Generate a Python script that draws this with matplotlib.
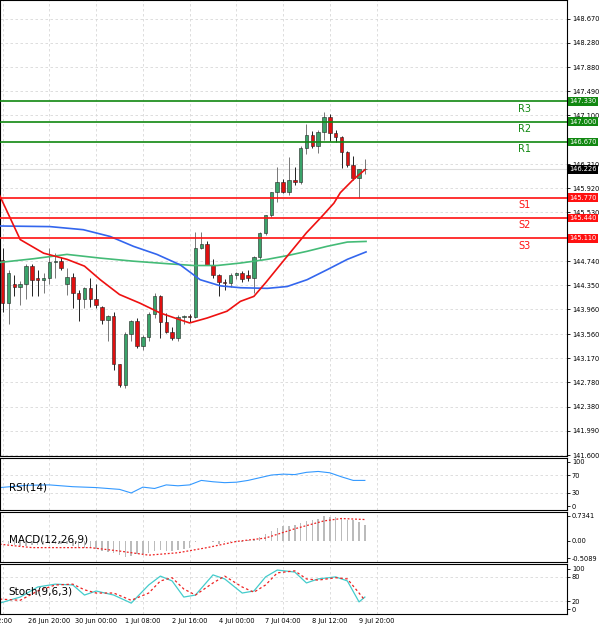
import numpy as np
import matplotlib.pyplot as plt

# OHLC per candle (4h bars)
opens = [144.76, 144.06, 144.37, 144.32, 144.37, 144.66, 144.46, 144.44, 144.47, 144.72,
         144.75, 144.37, 144.49, 144.22, 144.12, 144.31, 144.13, 143.99, 143.79, 143.86,
         143.07, 142.74, 143.56, 143.77, 143.36, 143.52, 143.89, 144.17, 143.76, 143.60,
         143.50, 143.84, 143.85, 143.84, 144.96, 145.02, 144.68, 144.51, 144.40, 144.38,
         144.52, 144.55, 144.52, 144.47, 144.81, 145.19, 145.48, 145.86, 146.03, 145.86,
         146.06, 146.02, 146.57, 146.79, 146.60, 146.84, 147.08, 146.82, 146.75, 146.51,
         146.29, 146.09, 146.23]
highs = [144.95, 144.60, 144.52, 144.42, 144.70, 144.70, 144.60, 144.55, 144.96, 144.87,
         144.80, 144.63, 144.55, 144.27, 144.32, 144.47, 144.37, 144.02, 143.87, 143.92,
         143.07, 143.60, 143.79, 143.82, 143.55, 143.92, 144.22, 144.20, 143.90, 143.68,
         143.87, 143.87, 143.89, 145.21, 145.22, 145.06, 144.78, 144.53, 144.45, 144.55,
         144.57, 144.58, 144.60, 144.82, 145.22, 145.49, 145.86, 146.27, 146.07, 146.42,
         146.27, 146.60, 146.96, 146.85, 146.87, 147.16, 147.13, 146.87, 146.77, 146.52,
         146.44, 146.23, 146.40]
lows = [143.92, 143.73, 144.17, 144.03, 144.12, 144.17, 144.17, 144.22, 144.37, 144.47,
        144.60, 144.20, 143.98, 143.77, 143.98, 144.00, 143.98, 143.73, 143.44, 142.97,
        142.70, 142.68, 143.44, 143.33, 143.30, 143.44, 143.82, 143.49, 143.57, 143.46,
        143.44, 143.73, 143.76, 143.82, 144.93, 144.68, 144.47, 144.17, 144.27, 144.32,
        144.45, 144.40, 144.42, 144.22, 144.76, 145.16, 145.46, 145.70, 145.84, 145.82,
        145.97, 145.99, 146.48, 146.57, 146.49, 146.70, 146.68, 146.67, 146.25, 146.27,
        146.06, 145.77, 146.16]
closes = [144.06, 144.55, 144.32, 144.37, 144.66, 144.44, 144.44, 144.47, 144.72, 144.75,
          144.63, 144.49, 144.22, 144.12, 144.31, 144.13, 144.03, 143.79, 143.86, 143.07,
          142.73, 143.56, 143.77, 143.36, 143.52, 143.89, 144.17, 143.76, 143.60, 143.50,
          143.84, 143.85, 143.84, 144.96, 145.02, 144.68, 144.51, 144.40, 144.39, 144.52,
          144.55, 144.45, 144.47, 144.81, 145.19, 145.48, 145.86, 146.03, 145.86, 146.06,
          146.02, 146.57, 146.79, 146.60, 146.84, 147.08, 146.82, 146.75, 146.51, 146.29,
          146.09, 146.23, 146.23]

# moving averages (read at sample candles)
ma_red_idx = [-0.5, 3, 7, 11, 14, 16.7, 20, 23.5, 27, 30.4, 32, 35, 38.4, 40.7, 43, 45, 48.7, 52, 54.4, 56.7, 57.8, 60, 62]
ma_red = [145.80, 145.09, 144.87, 144.77, 144.66, 144.44, 144.20, 144.06, 143.90, 143.79, 143.74, 143.82,
          143.93, 144.09, 144.17, 144.39, 144.82, 145.20, 145.44, 145.68, 145.85, 146.06, 146.22]
ma_blue_idx = [-0.5, 8.1, 13.8, 18.4, 22.4, 26.4, 30.4, 33.8, 37.3, 40.7, 45.3, 48.7, 52.1, 55.5, 59, 62.2]
ma_blue = [145.31, 145.30, 145.25, 145.14, 144.98, 144.85, 144.68, 144.44, 144.34, 144.31, 144.30,
           144.33, 144.44, 144.60, 144.77, 144.89]
ma_green_idx = [-0.5, 5.3, 11, 16.7, 22.4, 28.1, 32.7, 36.7, 40.7, 45.3, 48.7, 52.1, 55.5, 59, 62.2]
ma_green = [144.72, 144.78, 144.85, 144.79, 144.74, 144.70, 144.67, 144.67, 144.71, 144.77, 144.83,
            144.90, 144.98, 145.05, 145.06]

pivot_names = ["R3", "R2", "R1", "S1", "S2", "S3"]
pivot_values = [147.33, 147.00, 146.67, 145.77, 145.44, 145.11]
last_price = 146.226
price_ticks = [148.670, 148.280, 147.880, 147.490, 147.100, 146.310, 145.920, 145.530,
               144.740, 144.350, 143.960, 143.560, 143.170, 142.780, 142.380, 141.990, 141.600]

date_idx = [0, 8, 16, 24, 32, 40, 48, 56, 64]
date_labels = ["12:00", "26 Jun 20:00", "30 Jun 00:00", "1 Jul 08:00", "2 Jul 16:00",
               "4 Jul 00:00", "7 Jul 04:00", "8 Jul 12:00", "9 Jul 20:00"]

rsi_idx = [-0.5, 4, 8, 12, 16, 20, 22, 24, 26, 28, 30, 32, 34, 36, 38, 40, 42, 44, 46, 48, 50, 52, 54, 56, 58, 60, 62]
rsi = [42, 47, 48, 44, 42, 38, 30, 43, 40, 48, 46, 48, 58, 55, 53, 54, 58, 64, 70, 72, 71, 76, 78, 75, 66, 58, 58]

macd_hist = [-0.05, -0.10, -0.12, -0.15, -0.15, -0.12, -0.12, -0.10, -0.08, -0.08,
             -0.08, -0.10, -0.15, -0.20, -0.22, -0.22, -0.25, -0.30, -0.33, -0.35,
             -0.42, -0.48, -0.45, -0.40, -0.40, -0.35, -0.30, -0.28, -0.30, -0.30,
             -0.28, -0.25, -0.20, -0.05, -0.02, -0.02, -0.05, -0.08, -0.05, -0.05,
             -0.04, -0.04, 0.02, 0.05, 0.12, 0.20, 0.28, 0.38, 0.42, 0.42,
             0.45, 0.52, 0.58, 0.62, 0.65, 0.72, 0.70, 0.68, 0.66, 0.62,
             0.60, 0.55, 0.45]
macd_sig_idx = [-0.5, 5, 10, 15, 20, 25, 30, 35, 40, 45, 50, 55, 58, 62]
macd_sig = [-0.10, -0.20, -0.20, -0.20, -0.30, -0.42, -0.35, -0.20, -0.02, 0.08, 0.35, 0.58, 0.65, 0.62]

stoch_idx = [-0.5, 3, 6, 9, 12, 14, 16, 19, 22, 25, 27, 29, 31, 33, 36, 38, 41, 43, 45, 47, 50, 52, 54, 57, 59, 61, 62]
stoch_k = [15, 30, 55, 62, 60, 35, 45, 35, 15, 60, 82, 70, 30, 35, 85, 75, 40, 45, 80, 97, 92, 65, 75, 80, 70, 18, 30]
stoch_d = [25, 22, 45, 60, 62, 48, 40, 40, 22, 40, 70, 78, 50, 35, 65, 82, 55, 42, 60, 90, 95, 75, 72, 78, 75, 40, 22]

W, H = 600, 628
fig = plt.figure(figsize=(6, 6.28), dpi=100)
plt.rcParams['font.family'] = 'DejaVu Sans'
XR = 567
xmin, xmax = -0.46, 96.6
TICKFS = 4.8


def panel(top, bottom):
    ax = fig.add_axes([0, 1 - bottom / H, XR / W, (bottom - top) / H])
    ax.set_xlim(xmin, xmax)
    ax.yaxis.tick_right()
    ax.tick_params(axis='y', labelsize=TICKFS, length=2, pad=1.5, width=0.6)
    ax.tick_params(axis='x', length=0, labelbottom=False)
    for s in ax.spines.values():
        s.set_linewidth(0.8)
    for d in date_idx:
        ax.axvline(d, color='#d8d8d8', lw=0.6, ls=(0, (3, 3)), zorder=0)
    return ax


ax = panel(0, 456)
ax.set_ylim(141.585, 148.97)
ax.set_yticks(price_ticks)
ax.set_yticklabels([f"{t:.3f}" for t in price_ticks])
for t in price_ticks:
    ax.axhline(t, color='#d8d8d8', lw=0.6, ls=(0, (3, 3)), zorder=0)

for i, (o, h, l, c) in enumerate(zip(opens, highs, lows, closes)):
    up = c >= o
    ax.vlines(i, l, h, color='#777777' if up else '#222222', lw=0.7, zorder=2)
    body = max(abs(c - o), 0.008)
    ax.bar(i, body, bottom=min(o, c), width=0.6, color='#3aa36a' if up else '#e01010',
           edgecolor='#222222', linewidth=0.4, zorder=3)

ax.plot(ma_green_idx, ma_green, color='#44bb77', lw=1.2, zorder=4)
ax.plot(ma_blue_idx, ma_blue, color='#3366ee', lw=1.2, zorder=4)
ax.plot(ma_red_idx, ma_red, color='#ee1111', lw=1.2, zorder=4)

ax.axhline(last_price, color='#dddddd', lw=0.8, zorder=1)
for name, v in zip(pivot_names, pivot_values):
    col = '#118811' if name[0] == 'R' else '#ff1111'
    ax.axhline(v, color=col, lw=1.2, zorder=5)
    ax.text(89.3, v - 0.12, name, color=col, fontsize=7, ha='center', va='center')
    ax.text(1.004, v, f"{v:.3f}", transform=ax.get_yaxis_transform(), fontsize=TICKFS,
            color='white', va='center', ha='left', clip_on=False, zorder=10,
            bbox=dict(boxstyle='square,pad=0.2', fc=col, ec='none'))
ax.text(1.004, last_price, f"{last_price:.3f}", transform=ax.get_yaxis_transform(), fontsize=TICKFS,
        color='white', va='center', ha='left', clip_on=False, zorder=10,
        bbox=dict(boxstyle='square,pad=0.2', fc='black', ec='none'))

# RSI
ax_r = panel(458, 510)
ax_r.set_ylim(-8, 108)
ax_r.set_yticks([0, 30, 70, 100])
for t in [30, 70]:
    ax_r.axhline(t, color='#d8d8d8', lw=0.6, ls=(0, (3, 3)), zorder=0)
ax_r.plot(rsi_idx, rsi, color='#3399ff', lw=0.8)
ax_r.text(1, 42, "RSI(14)", fontsize=7.5, va='center')

# MACD
ax_m = panel(512, 562)
ax_m.set_ylim(-0.62, 0.84)
ax_m.set_yticks([-0.5089, 0.0, 0.7341])
ax_m.set_yticklabels(["-0.5089", "0.00", "0.7341"])
ax_m.bar(range(len(macd_hist)), macd_hist, width=0.25, color='#bbbbbb')
ax_m.plot(macd_sig_idx, macd_sig, color='#ee2222', lw=0.9, ls=(0, (1.5, 1.5)))
ax_m.text(1, 0.05, "MACD(12,26,9)", fontsize=7.5, va='center')

# Stochastic
ax_s = panel(564, 614)
ax_s.set_ylim(-12, 112)
ax_s.set_yticks([0, 20, 80, 100])
for t in [20, 80]:
    ax_s.axhline(t, color='#d8d8d8', lw=0.6, ls=(0, (3, 3)), zorder=0)
ax_s.plot(stoch_idx, stoch_k, color='#44cccc', lw=0.9)
ax_s.plot(stoch_idx, stoch_d, color='#ee2222', lw=0.9, ls=(0, (2, 2)))
ax_s.text(1, 45, "Stoch(9,6,3)", fontsize=7.5, va='center')
ax_s.set_xticks(date_idx)
ax_s.set_xticklabels(date_labels)
ax_s.tick_params(axis='x', labelbottom=True, labelsize=TICKFS, pad=3)

fig.savefig("out.png", dpi=100)
